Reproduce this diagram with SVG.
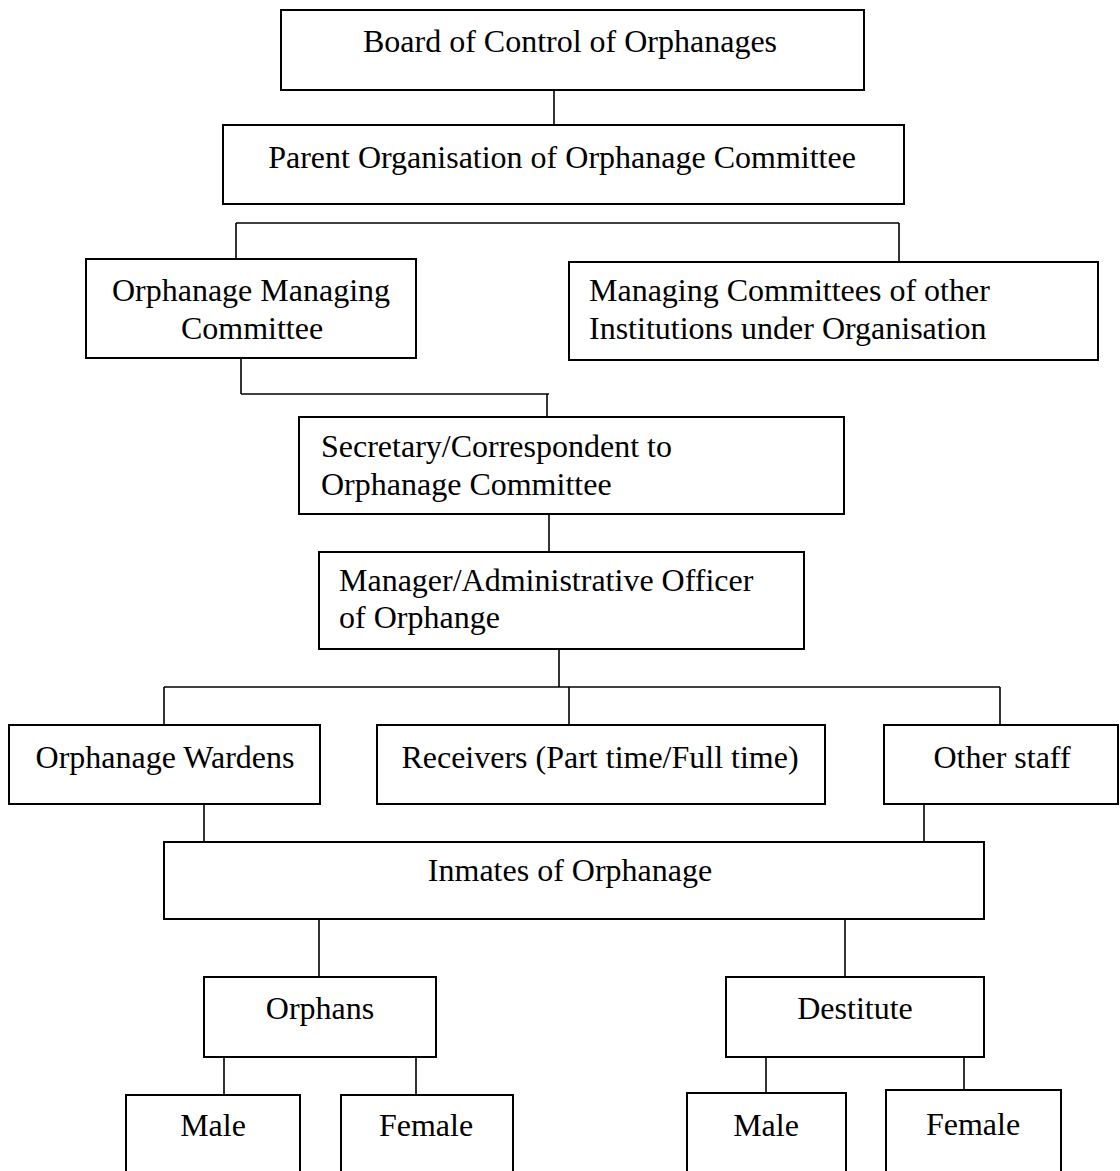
<svg xmlns="http://www.w3.org/2000/svg" width="1120" height="1171" viewBox="0 0 1120 1171">
<style>
rect{fill:#fff;stroke:#000;stroke-width:2}
.c line{stroke:#000;stroke-width:1.6}
text{font-family:"Liberation Serif","Times New Roman",serif;font-size:32px;fill:#000}
.m{text-anchor:middle}
</style>
<rect x="0" y="0" width="1120" height="1171" style="stroke:none"/>
<g class="c" id="connectors">
<line x1="554" y1="90" x2="554" y2="125"/>
<line x1="236" y1="223" x2="899" y2="223"/>
<line x1="236" y1="223" x2="236" y2="259"/>
<line x1="899" y1="223" x2="899" y2="262"/>
<line x1="241" y1="358" x2="241" y2="394"/>
<line x1="241" y1="394" x2="549" y2="394"/>
<line x1="547" y1="394" x2="547" y2="417"/>
<line x1="549" y1="514" x2="549" y2="552"/>
<line x1="559" y1="649" x2="559" y2="687"/>
<line x1="164" y1="687" x2="1000" y2="687"/>
<line x1="164" y1="687" x2="164" y2="725"/>
<line x1="569" y1="687" x2="569" y2="725"/>
<line x1="1000" y1="687" x2="1000" y2="725"/>
<line x1="204" y1="804" x2="204" y2="842"/>
<line x1="924" y1="804" x2="924" y2="842"/>
<line x1="319" y1="919" x2="319" y2="977"/>
<line x1="845" y1="919" x2="845" y2="977"/>
<line x1="224" y1="1057" x2="224" y2="1095"/>
<line x1="416" y1="1057" x2="416" y2="1095"/>
<line x1="766" y1="1057" x2="766" y2="1093"/>
<line x1="964" y1="1057" x2="964" y2="1090"/>
</g>
<g id="board"><rect x="281" y="10" width="583" height="80"/><text class="m" x="570" y="52">Board of Control of Orphanages</text></g>
<g id="parent"><rect x="223" y="125" width="681" height="79"/><text class="m" x="562" y="168">Parent Organisation of Orphanage Committee</text></g>
<g id="omc"><rect x="86" y="259" width="330" height="99"/><text class="m" x="251" y="301">Orphanage Managing</text><text class="m" x="252" y="339">Committee</text></g>
<g id="others"><rect x="569" y="262" width="529" height="98"/><text x="589" y="301">Managing Committees of other</text><text x="589" y="339">Institutions under Organisation</text></g>
<g id="secretary"><rect x="299" y="417" width="545" height="97"/><text x="321" y="457">Secretary/Correspondent to</text><text x="321" y="495">Orphanage Committee</text></g>
<g id="manager"><rect x="319" y="552" width="485" height="97"/><text x="339" y="591">Manager/Administrative Officer</text><text x="339" y="628">of Orphange</text></g>
<g id="wardens"><rect x="9" y="725" width="311" height="79"/><text class="m" x="165" y="768">Orphanage Wardens</text></g>
<g id="receivers"><rect x="377" y="725" width="448" height="79"/><text class="m" x="600" y="768">Receivers (Part time/Full time)</text></g>
<g id="otherstaff"><rect x="884" y="725" width="234" height="79"/><text class="m" x="1002" y="768">Other staff</text></g>
<g id="inmates"><rect x="164" y="842" width="820" height="77"/><text class="m" x="570" y="881">Inmates of Orphanage</text></g>
<g id="orphans"><rect x="204" y="977" width="232" height="80"/><text class="m" x="320" y="1019">Orphans</text></g>
<g id="destitute"><rect x="726" y="977" width="258" height="80"/><text class="m" x="855" y="1019">Destitute</text></g>
<g id="male1"><rect x="126" y="1095" width="174" height="100"/><text class="m" x="213" y="1136">Male</text></g>
<g id="female1"><rect x="341" y="1095" width="172" height="100"/><text class="m" x="426" y="1136">Female</text></g>
<g id="male2"><rect x="687" y="1093" width="159" height="100"/><text class="m" x="766" y="1136">Male</text></g>
<g id="female2"><rect x="886" y="1090" width="175" height="100"/><text class="m" x="973" y="1135">Female</text></g>
</svg>
